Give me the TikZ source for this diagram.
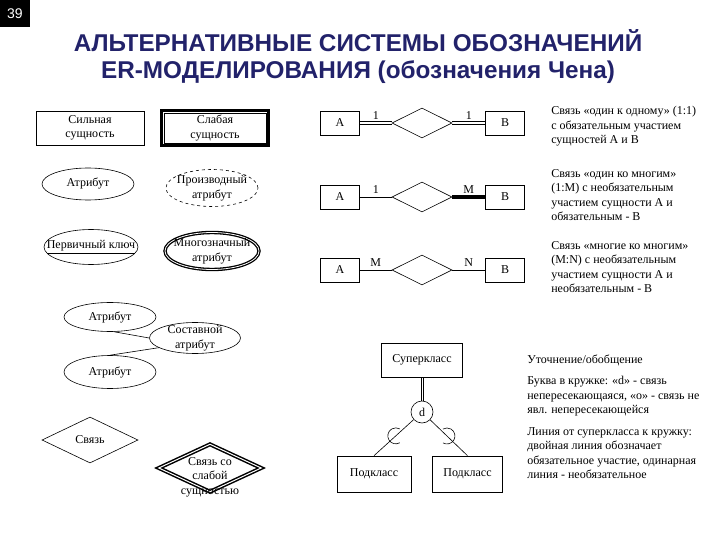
\documentclass[tikz,border=0pt]{standalone}
\usepackage{fontspec}
\setmainfont{Liberation Serif}
\newfontfamily\titlefont{Liberation Sans}
\usetikzlibrary{shapes.geometric, positioning}
\definecolor{titleblue}{RGB}{34,34,106}

\begin{document}
\begin{tikzpicture}[x=1pt, y=-1pt, line width=0.6pt,
  every node/.style={font=\fontsize{12}{14.5}\selectfont},
  entity/.style={draw, rectangle, inner sep=0pt, align=center},
  attrib/.style={draw, ellipse, inner sep=0pt, minimum width=92pt, minimum height=32pt},
  relship/.style={draw, diamond, inner sep=0pt, minimum width=60pt, minimum height=30pt},
  upper/.style={transform canvas={yshift=1.2pt}},
  lower/.style={transform canvas={yshift=-1.2pt}},
  heavy/.style={line width=4pt},
  note/.style={anchor=north west, inner sep=0pt, align=left}
]
\useasboundingbox (0,0) rectangle (720,540);

% Page number and title
\node[fill=black, text=white, minimum width=30pt, minimum height=27pt, inner sep=0pt,
  font=\titlefont\fontsize{14}{16}\selectfont] (pagenum) at (15,14) {39};
\node[font=\titlefont\bfseries\fontsize{24.3}{27}\selectfont, text=titleblue, align=center] (title) at (358,57)
  {АЛЬТЕРНАТИВНЫЕ СИСТЕМЫ ОБОЗНАЧЕНИЙ\\ER-МОДЕЛИРОВАНИЯ (обозначения Чена)};

% Entities
\node[entity, minimum width=108pt, minimum height=34pt] (strong) at (90,128) {Сильная\\сущность};
\node[entity, line width=3pt, minimum width=107pt, minimum height=35pt] (weak) at (215,128) {Слабая\\сущность};
\draw ([xshift=4pt,yshift=-4pt]weak.north west) rectangle ([xshift=-4pt,yshift=4pt]weak.south east);

% Attributes
\node[attrib, label=center:Атрибут] (attr) at (88,184) {};
\node[attrib, dashed, minimum height=37pt, label={[align=center]center:{Производный\\атрибут}}] (derived) at (212,188) {};
\node[attrib, minimum width=94pt, minimum height=35pt, label=center:{\underline{Первичный ключ}}] (pkey) at (91,247) {};
\node[attrib, double, double distance=0.8pt, line width=1.3pt, minimum width=94pt, minimum height=37pt,
  label={[align=center]center:{Многозначный\\атрибут}}] (multi) at (212,251) {};

% Composite attribute
\node[attrib, minimum height=29pt, label=center:Атрибут] (attrA) at (110,317) {};
\node[attrib, minimum width=91pt, minimum height=31pt, label={[align=center]center:{Составной\\атрибут}}] (comp) at (195,338) {};
\node[attrib, minimum height=33pt, label=center:Атрибут] (attrB) at (110,372) {};
\draw (attrA.-75) -- (comp.west);
\draw (attrB.north) -- (comp.195);

% Relationships
\node[relship, minimum width=96pt, minimum height=46pt, label=center:Связь] (rel) at (90,440) {};
\node[relship, double, double distance=1pt, line width=1.5pt, minimum width=103pt, minimum height=48pt,
  label={[align=center, yshift=-9pt]center:{Связь со\\слабой\\сущностью}}] (weakrel) at (210,468) {};

% Cardinality rows
\foreach \row/\y/\lft/\rgt in {1/123/1/1, 2/197/1/M, 3/270/M/N} {
    \node[entity, minimum width=39pt, minimum height=24pt] (a\row) at (340,\y) {A};
    \node[relship] (r\row) at (422,\y) {};
    \node[entity, minimum width=39pt, minimum height=24pt] (b\row) at (505,\y) {B};
    \path (a\row) -- node[above, inner sep=3.5pt] (la\row) {\lft} (r\row);
    \path (r\row) -- node[above, inner sep=3.5pt] (lb\row) {\rgt} (b\row);
}
\draw[upper] (a1) -- (r1) (r1) -- (b1);
\draw[lower] (a1) -- (r1) (r1) -- (b1);
\draw (a2) -- (r2);
\draw[heavy] (r2) -- (b2);
\draw (a3) -- (r3) -- (b3);

\node[note] (note1) at (551,106) {Связь «один к одному» (1:1)\\с обязательным участием\\сущностей А и В};
\node[note] (note2) at (551,169) {Связь «один ко многим»\\(1:M) с необязательным\\участием сущности А и\\обязательным - В};
\node[note] (note3) at (551,241) {Связь «многие ко многим»\\(M:N) с необязательным\\участием сущности А и\\необязательным - В};

% Specialization / generalization
\node[entity, minimum width=81pt, minimum height=34pt] (super) at (422,360) {Суперкласс};
\node[draw, circle, minimum size=22pt, inner sep=0pt] (circ) at (422,412) {d};
\node[entity, minimum width=74pt, minimum height=36pt] (subL) at (374,474) {Подкласс};
\node[entity, minimum width=70pt, minimum height=36pt] (subR) at (467.5,474) {Подкласс};
\draw[transform canvas={xshift=1.2pt}] (super) -- (circ);
\draw[transform canvas={xshift=-1.2pt}] (super) -- (circ);
\draw (circ) -- coordinate[pos=0.45] (cupL) (subL.north);
\draw (circ) -- coordinate[pos=0.45] (cupR) (subR.north);
\draw ([shift={(60:8)}]cupL) arc[start angle=60, end angle=300, radius=8];
\draw ([shift={(120:8)}]cupR) arc[start angle=120, end angle=-120, radius=8];

\node[note] (note4) at (527,355) {Уточнение/обобщение};
\node[note] (note5) at (527,376) {Буква в кружке: «d» - связь\\непересекающаяся, «о» - связь не\\явл. непересекающейся};
\node[note] (note6) at (527,427) {Линия от суперкласса к кружку:\\двойная линия обозначает\\обязательное участие, одинарная\\линия - необязательное};

\end{tikzpicture}
\end{document}
